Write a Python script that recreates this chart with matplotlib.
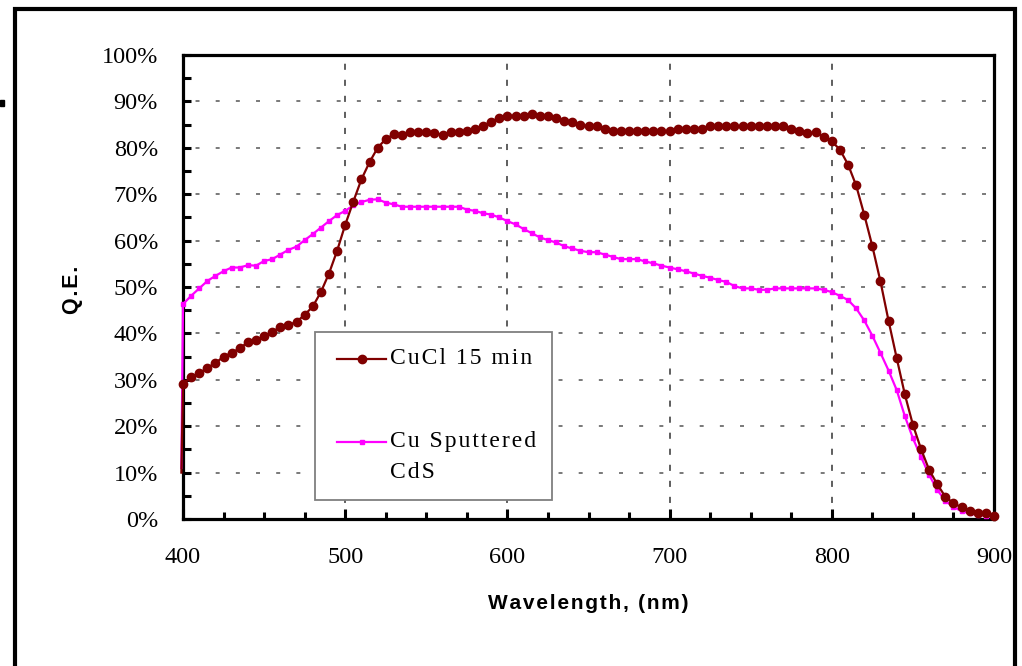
import numpy as np
import matplotlib
matplotlib.use("Agg")
import matplotlib.pyplot as plt
from matplotlib.lines import Line2D
from matplotlib.patches import Rectangle
from matplotlib.ticker import MultipleLocator, FixedLocator, FuncFormatter
import matplotlib.transforms as mtransforms

# ---------------- data ----------------
wavelength = [399] + list(range(400, 901, 5))

cucl_15min = [10.0,
    29.2, 30.5, 31.4, 32.6, 33.6, 35.0, 35.8, 36.8, 38.1, 38.6,
    39.4, 40.4, 41.3, 41.8, 42.5, 44.0, 45.8, 48.9, 52.9, 57.8,
    63.4, 68.4, 73.2, 76.9, 80.0, 81.9, 82.9, 82.8, 83.3, 83.3,
    83.3, 83.2, 82.8, 83.3, 83.3, 83.7, 84.1, 84.8, 85.6, 86.5,
    86.9, 86.9, 86.9, 87.3, 86.9, 86.8, 86.4, 85.8, 85.5, 85.0,
    84.6, 84.6, 84.1, 83.6, 83.6, 83.6, 83.6, 83.6, 83.6, 83.6,
    83.6, 84.1, 84.1, 84.1, 84.1, 84.6, 84.6, 84.6, 84.6, 84.6,
    84.6, 84.6, 84.6, 84.6, 84.6, 84.1, 83.6, 83.1, 83.3, 82.3,
    81.4, 79.6, 76.4, 71.9, 65.6, 58.8, 51.2, 42.7, 34.7, 26.9,
    20.3, 15.1, 10.6, 7.5, 4.8, 3.4, 2.5, 1.7, 1.2, 1.2,
    0.7]

cu_sputtered_cds = [11.0,
    46.3, 48.1, 49.7, 51.3, 52.4, 53.4, 54.2, 54.2, 54.7, 54.6,
    55.6, 56.0, 57.0, 58.0, 58.7, 60.1, 61.4, 62.8, 64.2, 65.5,
    66.4, 67.6, 68.3, 68.8, 68.9, 68.2, 67.8, 67.3, 67.3, 67.3,
    67.3, 67.3, 67.3, 67.3, 67.3, 66.7, 66.4, 65.9, 65.6, 65.0,
    64.2, 63.5, 62.5, 61.6, 60.7, 60.1, 59.6, 58.8, 58.3, 57.8,
    57.5, 57.5, 57.0, 56.5, 56.0, 56.0, 56.0, 55.5, 55.1, 54.6,
    54.2, 53.8, 53.4, 52.9, 52.4, 52.0, 51.5, 51.1, 50.2, 49.7,
    49.7, 49.4, 49.4, 49.7, 49.7, 49.7, 49.7, 49.7, 49.7, 49.4,
    48.9, 48.1, 47.2, 45.4, 42.8, 39.5, 35.8, 32.0, 27.8, 22.2,
    17.4, 13.4, 9.5, 6.3, 3.9, 2.6, 1.7, 1.2, 0.9, 0.7,
    0.6]

series_labels = ["CuCl 15 min", "Cu Sputtered", "CdS"]
x_ticks = [400, 500, 600, 700, 800, 900]
y_ticks = [0, 10, 20, 30, 40, 50, 60, 70, 80, 90, 100]
x_label = "Wavelength, (nm)"
y_label = "Q.E."

# ---------------- style ----------------
W, H = 1022, 666
DARK = "#800000"
MAG = "#FF00FF"
SERIF = ["Liberation Serif", "DejaVu Serif"]
SANS = ["Liberation Sans", "DejaVu Sans"]


def spaced(s, sep="\u200a"):
    return sep.join(s)


fig = plt.figure(figsize=(W / 100, H / 100), dpi=100)
fig.patch.set_facecolor("white")
ax = fig.add_axes([183 / W, 1 - 519 / H, (994 - 183) / W, (519 - 55) / H])

# pixel transform with origin at top-left of figure
pix = mtransforms.Affine2D().scale(1 / W, -1 / H).translate(0, 1) + fig.transFigure

ax.plot(wavelength, cu_sputtered_cds, color=MAG, lw=1.6, marker="s",
        markersize=3.2, markevery=slice(1, None), clip_on=False, zorder=3)
ax.plot(wavelength, cucl_15min, color=DARK, lw=1.6, marker="o",
        markersize=6.0, markevery=slice(1, None), clip_on=False, zorder=4)

ax.set_xlim(400, 900)
ax.set_ylim(0, 100)

ax.xaxis.set_major_locator(FixedLocator(x_ticks))
ax.xaxis.set_minor_locator(MultipleLocator(25))
ax.yaxis.set_major_locator(FixedLocator(y_ticks))
ax.yaxis.set_minor_locator(MultipleLocator(5))
ax.yaxis.set_major_formatter(FuncFormatter(lambda v, p: f"{int(v)}%"))

ax.tick_params(axis="both", which="both", direction="in", width=2.2,
               top=False, right=False)
ax.tick_params(axis="x", which="major", length=7, pad=20)
ax.tick_params(axis="x", which="minor", length=5)
ax.tick_params(axis="y", which="major", length=5.5, pad=18)
ax.tick_params(axis="y", which="minor", length=5.5)
for lab in ax.get_xticklabels() + ax.get_yticklabels():
    lab.set_family(SERIF)
    lab.set_fontsize(17.5)

for sp in ax.spines.values():
    sp.set_linewidth(2.3)
    sp.set_color("black")

# dashed grid
ax.grid(False)
for v in x_ticks[1:-1]:
    ax.axvline(v, color="#333333", lw=1.1, ls=(0, (4, 6.5)), zorder=1)
for v in y_ticks[1:-1]:
    ax.axhline(v, color="#555555", lw=1.1, ls=(5, (2.6, 10.6)), zorder=1)

ax.set_xlabel(spaced(x_label), family=SANS, fontweight="bold",
              fontsize=15, labelpad=18)
ax.set_ylabel(spaced(y_label), family=SANS, fontweight="bold",
              fontsize=15.5, labelpad=0)
ax.yaxis.set_label_coords(83 / W, 1 - 290 / H, transform=fig.transFigure)
ax.xaxis.set_label_coords(588 / W, 1 - 594 / H, transform=fig.transFigure)

# manual legend (Excel style)
ax.add_patch(Rectangle((315, 332), 237, 168, transform=pix, facecolor="white",
                       edgecolor="#7f7f7f", lw=1.3, zorder=2, clip_on=False))
ax.add_line(Line2D([337, 361.5, 386], [359, 359, 359], transform=pix,
                   color=DARK, lw=1.6, marker="o", markersize=6.0,
                   markevery=[1], zorder=5, clip_on=False))
ax.add_line(Line2D([337, 361.5, 386], [442, 442, 442], transform=pix,
                   color=MAG, lw=1.6, marker="s", markersize=3.2,
                   markevery=[1], zorder=5, clip_on=False))
ax.text(390, 359, spaced(series_labels[0]), transform=pix, family=SERIF,
        fontsize=17, va="center", ha="left", zorder=5)
ax.text(390, 442, spaced(series_labels[1]), transform=pix, family=SERIF,
        fontsize=17, va="center", ha="left", zorder=5)
ax.text(390, 473, spaced(series_labels[2]), transform=pix, family=SERIF,
        fontsize=17, va="center", ha="left", zorder=5)

# outer frame of the original graphic
fig.add_artist(Line2D([15, 15, 1015, 1015], [680, 9, 9, 680], transform=pix,
                      color="black", lw=3.0, solid_joinstyle="miter"))
fig.add_artist(Rectangle((0, 100), 4, 6, transform=pix, color="black"))

fig.savefig("out.png", dpi=100, facecolor="white")
